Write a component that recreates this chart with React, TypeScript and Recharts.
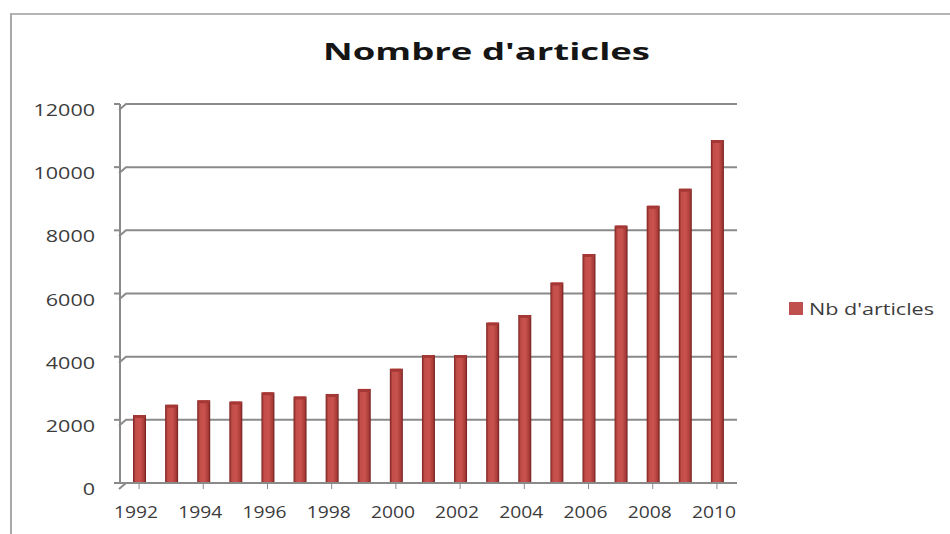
import React from 'react';
import { BarChart, Bar, XAxis, YAxis, CartesianGrid, Legend } from 'recharts';

const years = ['1992', '1993', '1994', '1995', '1996', '1997', '1998', '1999', '2000', '2001', '2002', '2003', '2004', '2005', '2006', '2007', '2008', '2009', '2010'];
const articles = [2150, 2480, 2620, 2580, 2870, 2740, 2820, 2980, 3620, 4050, 4050, 5080, 5320, 6350, 7250, 8150, 8780, 9320, 10860];
const yTicks = [0, 2000, 4000, 6000, 8000, 10000, 12000];
const seriesName = "Nb d'articles";
const title = "Nombre d'articles";

const data = years.map((y, i) => ({ year: y, value: articles[i] }));

const TEXT = '#3c3c3c';
const GRID = '#8a8a8a';

const YTick = (props: any) => {
  const { x, y, payload } = props;
  const s = String(payload.value);
  return (
    <text x={x} y={y + 12} textAnchor="end" fontFamily="Open Sans" fontSize={16} fill={TEXT}
      textLength={s.length * 12.3} lengthAdjust="spacingAndGlyphs">{s}</text>
  );
};

const XTick = (props: any) => {
  const { x, y, payload } = props;
  const s = String(payload.value);
  return (
    <text x={x - 3} y={y + 29} textAnchor="middle" fontFamily="Open Sans" fontSize={16} fill={TEXT}
      textLength={44} lengthAdjust="spacingAndGlyphs">{s}</text>
  );
};

const GridLine = (props: any) => {
  const { x1, y1, x2, y2 } = props;
  return (
    <path key={`g-${y1}`} d={`M${x1 - 1},${y1 + 6} L${x1 + 6},${y1} L${x2 + 4},${y2}`} stroke={GRID} strokeWidth={2} fill="none" />
  );
};

const Bar3D = (props: any) => {
  const { x, y, width, height } = props;
  if (!height || height <= 0) return null;
  return (
    <g>
      <rect x={x} y={y} width={width} height={height} fill="url(#barGrad)" />
      <rect x={x + 0.5} y={y} width={width - 1} height={3} rx={1.5} fill="#a53835" />
    </g>
  );
};

const LegendContent = () => (
  <svg width={160} height={24}>
    <rect x={2} y={4} width={14} height={13} fill="#c0504d" />
    <text x={22} y={17} fontFamily="Open Sans" fontSize={16} fill={TEXT} textLength={125} lengthAdjust="spacingAndGlyphs">{seriesName}</text>
  </svg>
);

export default function App() {
  return (
    <div style={{ position: 'absolute', left: 0, top: 0, width: 950, height: 534, background: '#fff', overflow: 'hidden' }}>
      <div style={{ position: 'absolute', left: 10, top: 13, width: 940, height: 521, borderLeft: '2px solid #a8a8a8', borderTop: '2px solid #b4b4b4' }} />
      <BarChart width={950} height={534} data={data} margin={{ top: 104, right: 217, bottom: 21, left: 0 }} barSize={13}>
        <defs>
          <linearGradient id="barGrad" x1="0" y1="0" x2="1" y2="0">
            <stop offset="0" stopColor="#7a2220" />
            <stop offset="0.2" stopColor="#c24d49" />
            <stop offset="0.55" stopColor="#c9524e" />
            <stop offset="0.85" stopColor="#a83b38" />
            <stop offset="1" stopColor="#6e1d1b" />
          </linearGradient>
        </defs>
        <CartesianGrid vertical={false} horizontal={GridLine as any} />
        <XAxis dataKey="year" interval={1} padding={{ left: 3, right: 0 }} height={30}
          axisLine={{ stroke: GRID, strokeWidth: 2 }} tickLine={{ stroke: GRID }} tickSize={6} tickMargin={0} tick={<XTick />} />
        <YAxis domain={[0, 12000]} ticks={yTicks} width={120} interval={0}
          axisLine={{ stroke: GRID, strokeWidth: 2 }} tickLine={{ stroke: GRID, strokeWidth: 2 }} tickSize={6} tickMargin={19} tick={<YTick />} />
        <Bar dataKey="value" name={seriesName} shape={<Bar3D />} isAnimationActive={false} />
        <Legend layout="vertical" align="center" verticalAlign="middle"
          wrapperStyle={{ left: 787, top: 298, width: 160, height: 24 }} content={<LegendContent />} />
      </BarChart>
      <svg width={950} height={80} style={{ position: 'absolute', left: 0, top: 0 }}>
        <text x={323} y={60} fontFamily="Open Sans" fontWeight={700} fontSize={23} fill="#151515"
          textLength={327} lengthAdjust="spacingAndGlyphs">{title}</text>
      </svg>
    </div>
  );
}
